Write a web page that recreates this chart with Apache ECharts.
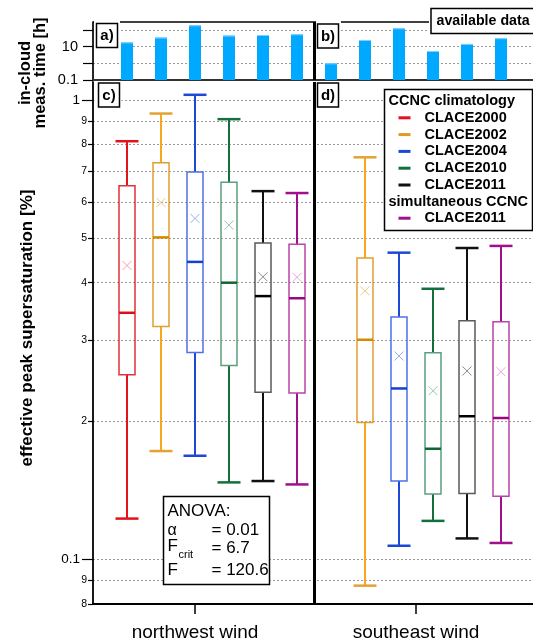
<!DOCTYPE html>
<html><head><meta charset="utf-8">
<script src="https://cdn.jsdelivr.net/npm/echarts@6/dist/echarts.min.js"></script>
<style>html,body{margin:0;padding:0;background:#fff}#c{width:533px;height:641px}</style>
</head><body><div id="c"></div>
<script>
// ---------------- data ----------------
const seriesNames = ['CLACE2000','CLACE2002','CLACE2004','CLACE2010','CLACE2011','CLACE2011'];
const windGroups = ['northwest wind','southeast wind'];
// in-cloud measurement time [h]
const measTimeNW = [18, 35, 190, 46, 50, 55];
const measTimeSE = [1.0, 25, 126, 5.5, 14.5, 32];
// effective peak supersaturation [%]: [min, q1, median, q3, max, mean]
const statsNW = [
  [0.1226, 0.252, 0.344, 0.650, 0.813, 0.436],
  [0.172, 0.321, 0.502, 0.730, 0.934, 0.598],
  [0.168, 0.282, 0.444, 0.697, 1.026, 0.552],
  [0.147, 0.264, 0.400, 0.662, 0.908, 0.534],
  [0.148, 0.231, 0.374, 0.488, 0.633, 0.412],
  [0.1455, 0.230, 0.370, 0.485, 0.627, 0.411]
];
const statsSE = [
  null,
  [0.0876, 0.1985, 0.3005, 0.453, 0.750, 0.384],
  [0.107, 0.148, 0.2354, 0.337, 0.465, 0.277],
  [0.1212, 0.1386, 0.174, 0.2815, 0.388, 0.2327],
  [0.111, 0.139, 0.2048, 0.3305, 0.476, 0.257],
  [0.1085, 0.1372, 0.203, 0.3289, 0.481, 0.256]
];
const topTicks = [0.1, 1, 10, 100];
const topTickLabels = [0.1, 10];
const mainMajorTicks = [0.1, 1];
const mainMinorTicks = [0.08, 0.09, 0.2, 0.3, 0.4, 0.5, 0.6, 0.7, 0.8, 0.9];
const anovaLines = [['α', '= 0.01'], ['F', '= 6.7', 'crit'], ['F', '= 120.6']];

// ---------------- styles ----------------
const FONT = "'Liberation Sans', Arial, Helvetica, sans-serif";
const whiskerColors = ['#e3121c', '#f7a81e', '#1c48d8', '#13703c', '#111111', '#a0108c'];
const capColors     = ['#e3121c', '#e3a232', '#1c48d8', '#13703c', '#111111', '#a0108c'];
const boxColors     = ['#e0323c', '#de9e30', '#4d72e6', '#5b9f7e', '#5a5a5a', '#bb44aa'];
const medianColors  = ['#d8101a', '#d48a00', '#1840d0', '#0f6634', '#000000', '#98087e'];
const meanColors    = ['#f2a2a6', '#f0c880', '#98aef0', '#98c6b0', '#8a8a8a', '#e6a6dc'];
const legendColors  = ['#e3121c', '#e09a1e', '#1c48d8', '#13703c', '#111111', '#a0108c'];
const BAR_COLOR = '#00a9ff';
const TOP_MIN = 0.1, TOP_MAX = 300, MAIN_MIN = 0.0799, MAIN_MAX = 1.094;
const DIVIDER = 6.5;
const groupTickPos = [3, 9.5];

function boxSeries(i) {
  const data = [];
  if (statsNW[i]) data.push([i + 1].concat(statsNW[i]));
  if (statsSE[i]) data.push([i + 7].concat(statsSE[i]));
  return {
    type: 'custom', name: seriesNames[i], xAxisIndex: 1, yAxisIndex: 1, z: 5,
    encode: { x: 0, y: [1, 2, 3, 4, 5, 6] },
    data: data,
    renderItem: function (params, api) {
      const x = api.value(0);
      const p = k => api.coord([x, api.value(k)]);
      const pMin = p(1), pQ1 = p(2), pMed = p(3), pQ3 = p(4), pMax = p(5), pMean = p(6);
      const cx = pMin[0], bw = 16, cw = 23, m = 4.5;
      const wc = whiskerColors[i];
      return { type: 'group', children: [
        { type: 'line', shape: { x1: cx, y1: pQ1[1], x2: cx, y2: pMin[1] }, style: { stroke: wc, lineWidth: 2 } },
        { type: 'line', shape: { x1: cx, y1: pQ3[1], x2: cx, y2: pMax[1] }, style: { stroke: wc, lineWidth: 2 } },
        { type: 'line', shape: { x1: cx - cw / 2, y1: pMin[1], x2: cx + cw / 2, y2: pMin[1] }, style: { stroke: capColors[i], lineWidth: 2.5 } },
        { type: 'line', shape: { x1: cx - cw / 2, y1: pMax[1], x2: cx + cw / 2, y2: pMax[1] }, style: { stroke: capColors[i], lineWidth: 2.5 } },
        { type: 'rect', shape: { x: cx - bw / 2, y: pQ3[1], width: bw, height: pQ1[1] - pQ3[1] }, style: { fill: 'none', stroke: boxColors[i], lineWidth: 1.5 } },
        { type: 'line', shape: { x1: cx - bw / 2, y1: pMed[1], x2: cx + bw / 2, y2: pMed[1] }, style: { stroke: medianColors[i], lineWidth: 2.5 } },
        { type: 'line', shape: { x1: cx - m, y1: pMean[1] - m, x2: cx + m, y2: pMean[1] + m }, style: { stroke: meanColors[i], lineWidth: 1 } },
        { type: 'line', shape: { x1: cx - m, y1: pMean[1] + m, x2: cx + m, y2: pMean[1] - m }, style: { stroke: meanColors[i], lineWidth: 1 } }
      ]};
    }
  };
}

const dividerMark = {
  silent: true, symbol: ['none', 'none'], label: { show: false },
  lineStyle: { color: '#000', width: 3, type: 'solid' },
  data: [{ xAxis: DIVIDER }]
};

const barData = measTimeNW.map((v, i) => [i + 1, v]).concat(measTimeSE.map((v, i) => [i + 7, v]));

const series = [
  {
    type: 'custom', name: 'available data', xAxisIndex: 0, yAxisIndex: 0, z: 3,
    encode: { x: 0, y: 1 }, data: barData,
    renderItem: function (params, api) {
      const top = api.coord([api.value(0), api.value(1)]);
      const bot = api.coord([api.value(0), TOP_MIN]);
      return { type: 'group', children: [
        { type: 'rect', shape: { x: top[0] - 6, y: top[1], width: 12, height: bot[1] - top[1] }, style: { fill: BAR_COLOR } },
        { type: 'line', shape: { x1: top[0] - 6, y1: top[1] + 0.5, x2: top[0] + 6, y2: top[1] + 0.5 }, style: { stroke: '#7fd2ff', lineWidth: 1 } }
      ]};
    },
    markLine: dividerMark
  }
];
for (let i = 0; i < seriesNames.length; i++) series.push(boxSeries(i));
series[1].markLine = dividerMark;

const grid = '#9a9a9a';
const option = {
  animation: false,
  backgroundColor: '#fff',
  textStyle: { fontFamily: FONT },
  grid: [
    { left: 93, top: 22, width: 442, height: 58, outerBoundsMode: 'none', containLabel: false },
    { left: 93, top: 82, width: 442, height: 522, outerBoundsMode: 'none', containLabel: false }
  ],
  xAxis: [
    { gridIndex: 0, type: 'value', min: 0, max: 13,
      axisLine: { show: true, onZero: false, lineStyle: { color: '#333', width: 2 } },
      axisTick: { show: false }, axisLabel: { show: false }, splitLine: { show: false } },
    { gridIndex: 1, type: 'value', min: 0, max: 13,
      axisLine: { show: true, onZero: false, lineStyle: { color: '#000', width: 2 } },
      axisTick: { show: true, customValues: groupTickPos, length: 10, lineStyle: { color: '#000', width: 1.5 } },
      axisLabel: { show: true, customValues: groupTickPos, margin: 19, fontSize: 19, color: '#000', fontFamily: FONT,
        formatter: v => windGroups[Math.abs(v - groupTickPos[0]) < 0.01 ? 0 : 1] },
      splitLine: { show: false } }
  ],
  yAxis: [
    { gridIndex: 0, type: 'log', logBase: 10, min: TOP_MIN, max: TOP_MAX, position: 'left',
      axisLine: { show: true, lineStyle: { color: '#000', width: 1.7 } },
      axisTick: { show: true, customValues: topTicks, length: 10, lineStyle: { color: '#000', width: 1.2 } },
      axisLabel: { show: true, customValues: topTickLabels, margin: 15, fontSize: 14.5, color: '#000', fontFamily: FONT,
        formatter: v => (v >= 1 ? String(Math.round(v)) : '0.1') },
      splitLine: { show: true, lineStyle: { color: grid, width: 1, type: [2, 2] } } },
    { gridIndex: 1, type: 'log', logBase: 10, min: MAIN_MIN, max: MAIN_MAX, position: 'left',
      axisLine: { show: true, lineStyle: { color: '#000', width: 1.8 } },
      axisTick: { show: true, customValues: mainMajorTicks, length: 11, lineStyle: { color: '#000', width: 1.2 } },
      axisLabel: { show: true, customValues: mainMajorTicks, margin: 13, fontSize: 13.5, color: '#000', fontFamily: FONT,
        formatter: v => (v >= 0.999 ? '1' : '0.1') },
      splitLine: { show: true, lineStyle: { color: grid, width: 1, type: [2, 2] } } },
    { gridIndex: 1, type: 'log', logBase: 10, min: MAIN_MIN, max: MAIN_MAX, position: 'left', offset: 0,
      axisLine: { show: false },
      axisTick: { show: true, customValues: mainMinorTicks, length: 5, lineStyle: { color: '#000', width: 1.2 } },
      axisLabel: { show: true, customValues: mainMinorTicks, margin: 6, fontSize: 10.5, color: '#000', fontFamily: FONT,
        formatter: v => String(Math.round(v < 0.095 ? v * 100 : v * 10)) },
      splitLine: { show: true, lineStyle: { color: grid, width: 1, type: [2, 2] } } }
  ],
  series: series,
  graphic: { elements: buildGraphics() }
};

function labelBox(txt, x, y, w, h, halo) {
  return { type: 'group', x: x, y: y, z: 100, children: [
    { type: 'rect', shape: { x: halo[0], y: halo[1], width: w + halo[2], height: h + halo[3] }, style: { fill: '#fff' }, z: 100 },
    { type: 'rect', shape: { x: 0, y: 0, width: w, height: h }, style: { fill: '#fff', stroke: '#000', lineWidth: 1.5 }, z: 101 },
    { type: 'text', x: w / 2, y: h / 2 + 0.5, z: 102, style: { text: txt, fontFamily: FONT, fontWeight: 'bold', fontSize: 15, fill: '#000', align: 'center', verticalAlign: 'middle' } }
  ]};
}

function buildGraphics() {
  const els = [];
  els.push({ type: 'line', z: 99, shape: { x1: 93, y1: 22, x2: 535, y2: 22 }, style: { stroke: '#000', lineWidth: 1.7 } });
  els.push(labelBox('a)', 96.5, 23.5, 21, 24, [-2.5, -9, 5, 11]));
  els.push(labelBox('b)', 317.5, 24, 21, 24, [-1.5, -9, 4, 11]));
  els.push(labelBox('c)', 98.5, 83, 21, 24, [-4, -0.5, 6, 2.5]));
  els.push(labelBox('d)', 317.5, 83, 21, 24, [-1.5, -0.5, 4, 2.5]));
  els.push({ type: 'group', x: 431, y: 8.5, z: 100, children: [
    { type: 'rect', shape: { x: -2, y: -8, width: 110, height: 36 }, style: { fill: '#fff' }, z: 100 },
    { type: 'rect', shape: { x: 0, y: 0, width: 106, height: 25 }, style: { fill: '#fff', stroke: '#000', lineWidth: 1.5 }, z: 101 },
    { type: 'text', x: 5.5, y: 13, z: 102, style: { text: 'available data', fontFamily: FONT, fontWeight: 'bold', fontSize: 14.2, fill: '#000', align: 'left', verticalAlign: 'middle' } }
  ]});
  const titleStyle = { fontFamily: FONT, fontWeight: 'bold', fontSize: 16.5, fill: '#000', align: 'center', verticalAlign: 'middle' };
  els.push({ type: 'text', x: 25, y: 73, rotation: Math.PI / 2, z: 100, style: Object.assign({ text: 'in-cloud' }, titleStyle) });
  els.push({ type: 'text', x: 40, y: 73, rotation: Math.PI / 2, z: 100, style: Object.assign({ text: 'meas. time [h]' }, titleStyle) });
  els.push({ type: 'text', x: 27, y: 328, rotation: Math.PI / 2, z: 100, style: Object.assign({ text: 'effective peak supersaturation [%]' }, titleStyle, { fontSize: 17 }) });
  const lg = [];
  lg.push({ type: 'rect', shape: { x: 0, y: 0, width: 148, height: 141 }, style: { fill: '#fff', stroke: '#000', lineWidth: 1.5 }, z: 100 });
  const lgText = (t, x, y) => ({ type: 'text', x: x, y: y, z: 101, style: { text: t, fontFamily: FONT, fontWeight: 'bold', fontSize: 14.5, fill: '#000', align: 'left', verticalAlign: 'middle' } });
  const lgLine = (c, y) => ({ type: 'line', z: 101, shape: { x1: 14, y1: y, x2: 26, y2: y }, style: { stroke: c, lineWidth: 3 } });
  lg.push(lgText('CCNC climatology', 4, 11.7));
  for (let i = 0; i < 5; i++) {
    const y = 28.3 + i * 16.8;
    lg.push(lgLine(legendColors[i], y));
    lg.push(lgText(seriesNames[i], 40, y));
  }
  lg.push(lgText('simultaneous CCNC', 4, 112));
  lg.push(lgLine(legendColors[5], 128.7));
  lg.push(lgText(seriesNames[5], 40, 128.7));
  els.push({ type: 'group', x: 384.5, y: 89.5, z: 100, children: lg });
  const an = [];
  const anText = (t, x, y, fs) => ({ type: 'text', x: x, y: y, z: 101, style: { text: t, fontFamily: FONT, fontSize: fs || 17, fill: '#000', align: 'left', verticalAlign: 'middle' } });
  an.push({ type: 'rect', shape: { x: 0, y: 0, width: 106, height: 88 }, style: { fill: '#fff', stroke: '#000', lineWidth: 1.5 }, z: 100 });
  an.push(anText('ANOVA:', 4, 14.5));
  const rowsY = [34, 52, 74];
  anovaLines.forEach((r, k) => {
    an.push(anText(r[0], 4, rowsY[k] - (r[2] ? 2 : 0), r[0] === 'α' ? 16 : 17));
    if (r[2]) an.push(anText(r[2], 15, rowsY[k] + 6, 11));
    an.push(anText(r[1], 48, rowsY[k]));
  });
  els.push({ type: 'group', x: 163.5, y: 496.5, z: 100, children: an });
  return els;
}

const chart = echarts.init(document.getElementById('c'), null, { renderer: 'canvas', width: 533, height: 641 });
chart.setOption(option);
</script>
</body></html>
